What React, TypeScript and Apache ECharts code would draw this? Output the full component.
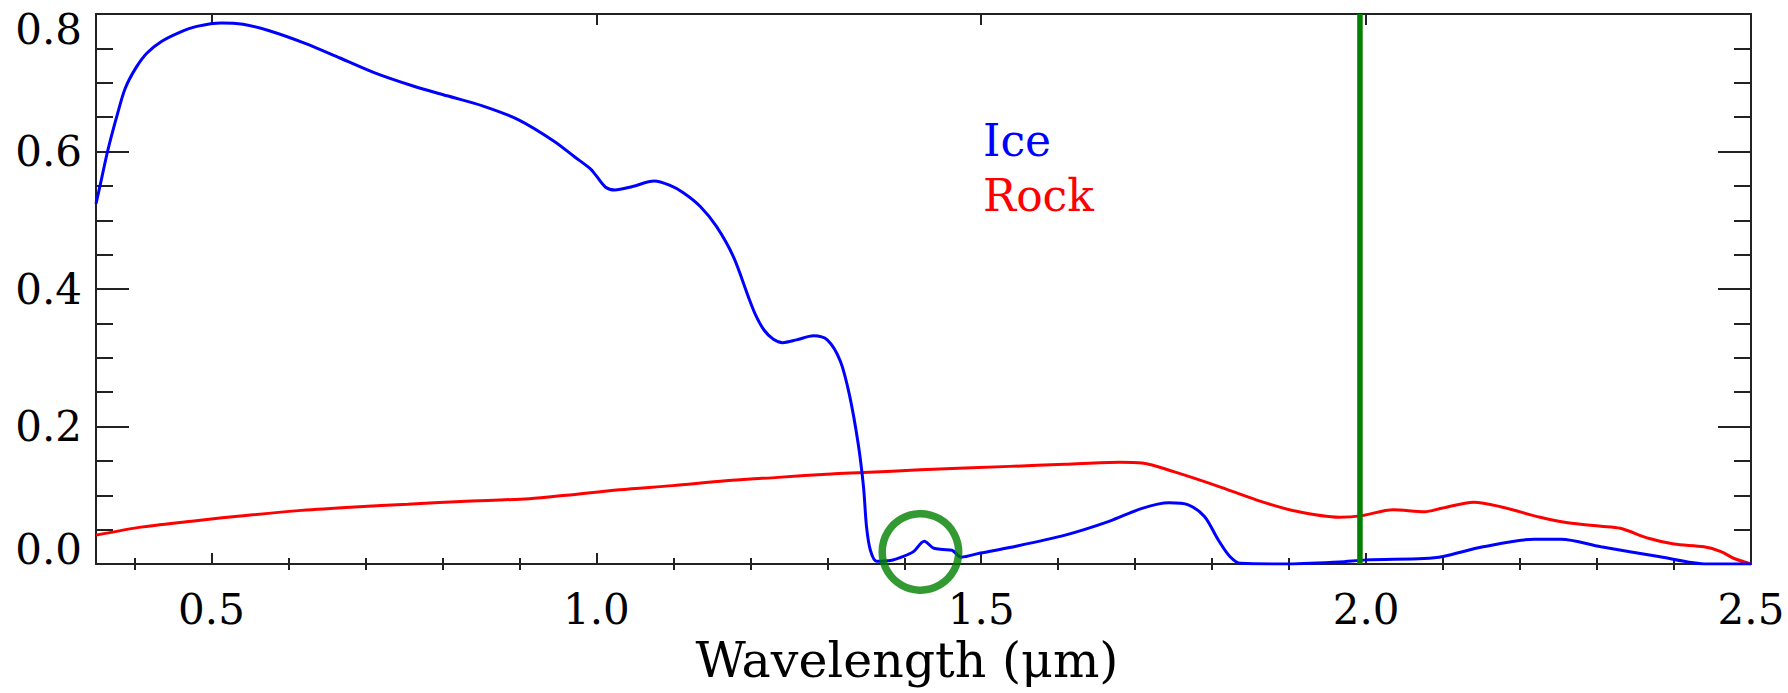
import React, { useEffect, useRef } from "react";
import * as echarts from "echarts";

// ---- Data ----
const iceWavelength = [
  0.35, 0.356, 0.365, 0.377, 0.388, 0.402, 0.416, 0.435, 0.458, 0.481, 0.513, 0.541, 0.574, 0.62,
  0.667, 0.713, 0.76, 0.806, 0.853, 0.899, 0.945, 0.972, 0.992, 0.999, 1.012, 1.024, 1.047, 1.075,
  1.095, 1.113, 1.135, 1.156, 1.178, 1.198, 1.207, 1.218, 1.23, 1.242, 1.26, 1.282, 1.3, 1.317,
  1.329, 1.34, 1.347, 1.351, 1.356, 1.364, 1.382, 1.399, 1.412, 1.426, 1.438, 1.45, 1.462, 1.474,
  1.499, 1.537, 1.609, 1.666, 1.709, 1.744, 1.769, 1.79, 1.808, 1.823, 1.837, 1.894, 1.965, 2.0,
  2.075, 2.1, 2.152, 2.218, 2.253, 2.305, 2.38, 2.443, 2.5,
];
const iceReflectance = [
  0.524, 0.554, 0.6, 0.651, 0.692, 0.722, 0.743, 0.76, 0.773, 0.782, 0.787, 0.785, 0.776, 0.758,
  0.736, 0.714, 0.696, 0.681, 0.666, 0.646, 0.615, 0.592, 0.575, 0.566, 0.548, 0.544, 0.549, 0.557,
  0.551, 0.54, 0.52, 0.491, 0.447, 0.387, 0.362, 0.34, 0.327, 0.322, 0.326, 0.332, 0.326, 0.295,
  0.245, 0.176, 0.113, 0.054, 0.02, 0.004, 0.005, 0.011, 0.018, 0.033, 0.023, 0.021, 0.02, 0.01,
  0.016, 0.024, 0.042, 0.062, 0.081, 0.089, 0.086, 0.069, 0.035, 0.011, 0.001, 0.0, 0.003, 0.006,
  0.008, 0.011, 0.025, 0.036, 0.036, 0.025, 0.011, 0.0, 0.0,
];

const rockWavelength = [
  0.35, 0.411, 0.48, 0.548, 0.617, 0.686, 0.755, 0.824, 0.913, 0.961, 1.03, 1.099, 1.168, 1.236,
  1.305, 1.347, 1.421, 1.537, 1.609, 1.68, 1.709, 1.751, 1.808, 1.858, 1.908, 1.965, 1.993, 2.035,
  2.076, 2.098, 2.14, 2.176, 2.226, 2.262, 2.305, 2.33, 2.368, 2.4, 2.439, 2.461, 2.478, 2.5,
];
const rockReflectance = [
  0.042, 0.054, 0.063, 0.071, 0.078, 0.083, 0.087, 0.091, 0.095, 0.1, 0.108, 0.114, 0.121, 0.126,
  0.131, 0.133, 0.137, 0.142, 0.145, 0.148, 0.147, 0.134, 0.113, 0.093, 0.077, 0.068, 0.07, 0.079,
  0.076, 0.081, 0.09, 0.083, 0.068, 0.06, 0.055, 0.052, 0.037, 0.029, 0.025, 0.018, 0.008, 0.0,
];

const xMajorTicks = [0.5, 1.0, 1.5, 2.0, 2.5];
const xMinorTicks = [0.4, 0.6, 0.7, 0.8, 0.9, 1.1, 1.2, 1.3, 1.4, 1.6, 1.7, 1.8, 1.9, 2.1, 2.2, 2.3, 2.4];
const markerWavelength = 1.992;
const highlightPoint = [1.421, 0.0175];

const AXIS_COLOR = "#222";
const TICK_FONT = "DejaVu Serif";

export default function App() {
  const ref = useRef<HTMLDivElement>(null);

  useEffect(() => {
    if (!ref.current) return;
    const chart = echarts.init(ref.current, undefined, { renderer: "svg" });
    const axisLine = { show: true, onZero: false, lineStyle: { color: AXIS_COLOR, width: 2 } };
    const tickLine = { color: AXIS_COLOR, width: 2 };
    const xBase = { type: "value", min: 0.35, max: 2.5, splitLine: { show: false } };
    const yBase = { type: "value", min: 0, max: 0.8, interval: 0.2, splitLine: { show: false } };

    chart.setOption({
      animation: false,
      backgroundColor: "#fff",
      grid: { left: 96, right: 37, top: 14, bottom: 129, containLabel: false },
      legend: {
        orient: "vertical",
        left: 972,
        top: 113,
        itemGap: 11,
        itemWidth: 1,
        itemHeight: 1,
        selectedMode: false,
        textStyle: { fontSize: 44, fontFamily: "DejaVu Serif" },
        data: [
          { name: "Ice", icon: "none", textStyle: { color: "#0000ff" } },
          { name: "Rock", icon: "none", textStyle: { color: "#ff0000" } },
        ],
      },
      xAxis: [
        {
          ...xBase,
          position: "bottom",
          axisLine,
          axisTick: { show: true, inside: true, length: 11, customValues: xMajorTicks, lineStyle: tickLine },
          axisLabel: {
            customValues: xMajorTicks,
            formatter: (v: number) => v.toFixed(1),
            fontSize: 42,
            fontFamily: TICK_FONT,
            color: "#000",
            margin: 24,
          },
          name: "Wavelength (μm)",
          nameLocation: "middle",
          nameGap: 72,
          nameTextStyle: { fontSize: 49, fontFamily: TICK_FONT, color: "#000", padding: [0, 33, 0, 0] },
        },
        {
          ...xBase,
          position: "bottom",
          axisLine: { show: false },
          axisTick: { show: true, inside: true, length: 6, customValues: xMinorTicks, lineStyle: tickLine },
          axisLabel: { show: false },
        },
        {
          ...xBase,
          position: "top",
          axisLine,
          axisTick: { show: true, inside: true, length: 11, customValues: xMajorTicks, lineStyle: tickLine },
          axisLabel: { show: false },
        },
        {
          ...xBase,
          position: "top",
          axisLine: { show: false },
          axisTick: { show: true, inside: true, length: 6, customValues: xMinorTicks, lineStyle: tickLine },
          axisLabel: { show: false },
        },
      ],
      yAxis: [
        {
          ...yBase,
          position: "left",
          axisLine,
          axisTick: { show: true, inside: true, length: 33, lineStyle: tickLine },
          minorTick: { show: true, splitNumber: 4, length: 17, lineStyle: tickLine },
          axisLabel: {
            formatter: (v: number) => v.toFixed(1),
            fontSize: 42,
            lineHeight: 30,
            fontFamily: TICK_FONT,
            color: "#000",
            margin: 14,
            verticalAlignMinLabel: "bottom",
            verticalAlignMaxLabel: "top",
          },
        },
        {
          ...yBase,
          position: "right",
          axisLine,
          axisTick: { show: true, inside: true, length: 33, lineStyle: tickLine },
          minorTick: { show: true, splitNumber: 4, length: 17, lineStyle: tickLine },
          axisLabel: { show: false },
        },
      ],
      series: [
        {
          name: "Ice",
          type: "line",
          xAxisIndex: 0,
          yAxisIndex: 0,
          data: iceWavelength.map((x, i) => [x, iceReflectance[i]]),
          showSymbol: false,
          smooth: 0.3,
          lineStyle: { color: "#0000ff", width: 3 },
          itemStyle: { color: "#0000ff" },
          z: 3,
        },
        {
          name: "Rock",
          type: "line",
          xAxisIndex: 0,
          yAxisIndex: 0,
          data: rockWavelength.map((x, i) => [x, rockReflectance[i]]),
          showSymbol: false,
          smooth: 0.3,
          lineStyle: { color: "#ff0000", width: 3 },
          itemStyle: { color: "#ff0000" },
          z: 2,
        },
        {
          name: "marker",
          type: "line",
          xAxisIndex: 0,
          yAxisIndex: 0,
          data: [
            [markerWavelength, 0],
            [markerWavelength, 0.8],
          ],
          showSymbol: false,
          silent: true,
          lineStyle: { color: "#008000", width: 5.5 },
          z: 4,
        },
        {
          name: "highlight",
          type: "scatter",
          xAxisIndex: 0,
          yAxisIndex: 0,
          data: [highlightPoint],
          symbol: "circle",
          symbolSize: 76.5,
          clip: false,
          silent: true,
          itemStyle: { color: "rgba(0,0,0,0)", borderColor: "#008000", borderWidth: 7.5 },
          z: 5,
        },
      ],
    });
    return () => chart.dispose();
  }, []);

  return (
    <div
      ref={ref}
      style={{ position: "absolute", left: 0, top: 0, width: 1788, height: 693, background: "#fff" }}
    />
  );
}
